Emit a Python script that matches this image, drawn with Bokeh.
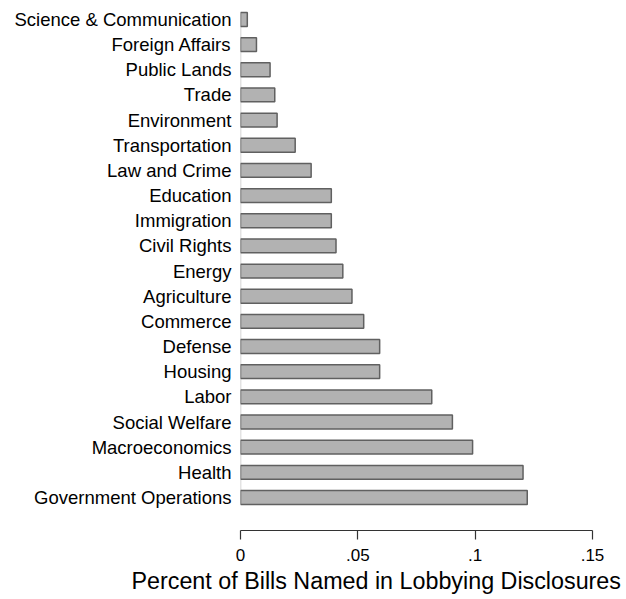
from bokeh.plotting import figure
from bokeh.models import FixedTicker, Range1d, Title
from bokeh.embed import file_html
from bokeh.resources import INLINE

# Data (top to bottom as shown)
categories = ["Science & Communication", "Foreign Affairs", "Public Lands", "Trade",
              "Environment", "Transportation", "Law and Crime", "Education",
              "Immigration", "Civil Rights", "Energy", "Agriculture", "Commerce",
              "Defense", "Housing", "Labor", "Social Welfare", "Macroeconomics",
              "Health", "Government Operations"]
values = [0.0029, 0.0068, 0.0126, 0.0146, 0.0156, 0.0233, 0.0301, 0.0387,
          0.0387, 0.0407, 0.0436, 0.0475, 0.0525, 0.0593, 0.0593, 0.0815,
          0.0903, 0.0989, 0.1204, 0.1222]
x_ticks = [0, 0.05, 0.1, 0.15]
x_tick_labels = ["0", ".05", ".1", ".15"]
x_title = "Percent of Bills Named in Lobbying Disclosures"

n = len(categories)
ypos = [n - 1 - i for i in range(n)]  # top category gets highest index
bar_h = 0.55

FONT = "Liberation Sans"

p = figure(width=626, height=599, output_backend="svg", toolbar_location=None,
           x_range=Range1d(0, 0.15), y_range=Range1d(-1.312, 19.555),
           min_border_left=240, min_border_right=34, min_border_top=5,
           min_border_bottom=69)
p.background_fill_color = "white"
p.border_fill_color = "white"
p.outline_line_color = None
p.xgrid.grid_line_color = None
p.ygrid.grid_line_color = None

# baseline line at zero
p.segment(x0=[0], y0=[-bar_h / 2], x1=[0], y1=[(n - 1) - bar_h / 2],
          line_color="#c8c8c8", line_width=1.5)

p.hbar(y=ypos, right=values, left=0, height=bar_h,
       fill_color="#b2b2b2", line_color="#606060", line_width=1.5)

# x axis
xa = p.xaxis[0]
xa.ticker = FixedTicker(ticks=x_ticks)
xa.major_label_overrides = {t: l for t, l in zip(x_ticks, x_tick_labels)}
xa.axis_line_color = "#333333"
xa.axis_line_width = 1.2
xa.major_tick_line_color = "#333333"
xa.major_tick_line_width = 1.2
xa.major_tick_out = 9
xa.major_tick_in = 0
xa.minor_tick_line_color = None
xa.major_label_standoff = 9
xa.major_label_text_font = FONT
xa.major_label_text_font_size = "17px"
xa.major_label_text_color = "black"

# axis title, placed under the axis and shifted left as in the reference
p.add_layout(Title(text=x_title, align="left", offset=-109, text_font=FONT,
                   text_font_size="23.3px", text_font_style="normal",
                   text_color="black", standoff=5), "below")

# y axis with category labels
ya = p.yaxis[0]
ya.ticker = FixedTicker(ticks=ypos)
ya.major_label_overrides = {y: c for y, c in zip(ypos, categories)}
ya.axis_line_color = None
ya.major_tick_line_color = None
ya.minor_tick_line_color = None
ya.major_tick_out = 0
ya.major_tick_in = 0
ya.major_label_standoff = 9
ya.major_label_text_font = FONT
ya.major_label_text_font_size = "18.5px"
ya.major_label_text_color = "black"

open("out.html", "w").write(file_html(p, INLINE))
